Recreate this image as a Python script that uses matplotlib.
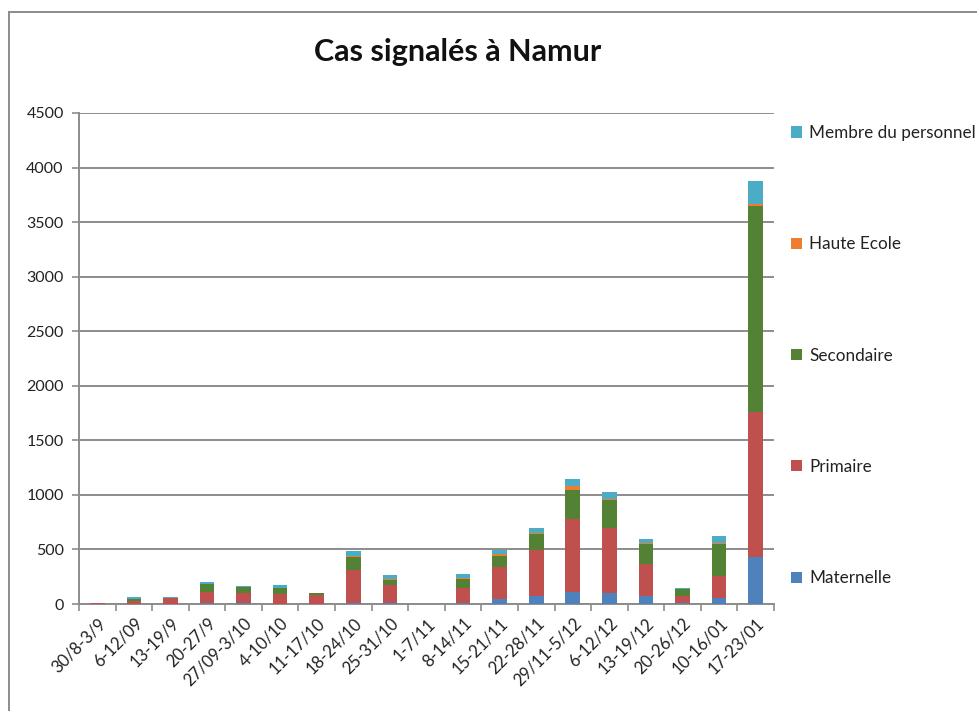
import matplotlib
matplotlib.use("Agg")
import matplotlib.pyplot as plt
from matplotlib.patches import Rectangle
import numpy as np

plt.rcParams['font.family'] = ['Lato', 'DejaVu Sans']

categories = ["30/8-3/9", "6-12/09", "13-19/9", "20-27/9", "27/09-3/10", "4-10/10",
              "11-17/10", "18-24/10", "25-31/10", "1-7/11", "8-14/11", "15-21/11",
              "22-28/11", "29/11-5/12", "6-12/12", "13-19/12", "20-26/12", "10-16/01",
              "17-23/01"]

maternelle = [2, 2, 2, 8, 8, 3, 2, 12, 9, 0, 9, 46, 77, 108, 99, 77, 12, 59, 435]
primaire   = [3, 22, 57, 106, 91, 90, 78, 297, 164, 0, 142, 291, 414, 671, 602, 294, 62, 194, 1325]
secondaire = [2, 25, 0, 68, 59, 58, 19, 124, 46, 0, 78, 102, 146, 265, 249, 182, 62, 297, 1890]
haute_ecole = [0, 0, 0, 3, 0, 0, 0, 10, 8, 0, 8, 15, 18, 37, 12, 9, 2, 12, 15]
personnel  = [6, 12, 9, 13, 9, 19, 6, 40, 37, 0, 40, 37, 46, 65, 68, 37, 6, 62, 210]

series_names = ["Maternelle", "Primaire", "Secondaire", "Haute Ecole", "Membre du personnel"]
series_values = [maternelle, primaire, secondaire, haute_ecole, personnel]
colors = ["#4F81BD", "#C0504D", "#548235", "#ED7D31", "#4BACC6"]

yticks = [0, 500, 1000, 1500, 2000, 2500, 3000, 3500, 4000, 4500]

fig = plt.figure(figsize=(9.78, 7.11), dpi=100)
ax = fig.add_axes([79/978, (711-604)/711, 695/978, 491/711])

x = np.arange(len(categories))
bottom = np.zeros(len(categories))
handles = []
for name, vals, col in zip(series_names, series_values, colors):
    v = np.array(vals, dtype=float)
    b = ax.bar(x, v, 0.4, bottom=bottom, color=col, label=name, zorder=3,
               edgecolor='none')
    handles.append(b)
    bottom += v

ax.set_xlim(-0.5, len(categories) - 0.5)
ax.set_ylim(0, 4500)
ax.set_yticks(yticks)
ax.set_yticklabels([str(t) for t in yticks], fontsize=11.5, color='#222222')
ax.yaxis.grid(True, color='#8c8c8c', linewidth=1.4, zorder=0)
ax.set_axisbelow(True)

ax.set_xticks(x)
ax.set_xticklabels(categories, rotation=45, ha='right', va='top',
                   rotation_mode='anchor', fontsize=12, color='#222222')
ax.set_xticks(np.arange(-0.5, len(categories)), minor=True)
ax.tick_params(axis='x', which='major', length=0, pad=8)
ax.tick_params(axis='x', which='minor', length=5, color='#8c8c8c', width=1.2)
ax.tick_params(axis='y', length=5, color='#8c8c8c', width=1.2, pad=6)

for s in ['top', 'right']:
    ax.spines[s].set_visible(False)
for s in ['left', 'bottom']:
    ax.spines[s].set_color('#8c8c8c')
    ax.spines[s].set_linewidth(1.4)

fig.text(458/978, 1 - 52/711, "Cas signalés à Namur", ha='center', va='center',
         fontsize=22, fontweight='bold', color='#111111')

leg = fig.legend(handles[::-1], series_names[::-1], loc='upper left',
                 bbox_to_anchor=(791/978, 1 - 125/711), frameon=False,
                 fontsize=12.3, handlelength=0.62, handleheight=0.62,
                 handletextpad=0.45, labelspacing=5.58, borderaxespad=0,
                 borderpad=0)
for t in leg.get_texts():
    t.set_color('#222222')

border = Rectangle((9/978, -0.1), 1.2, 1.1 - 12/711, transform=fig.transFigure,
                   fill=False, edgecolor='#8c8c8c', linewidth=1.4)
fig.patches.append(border)

fig.savefig("out.png", dpi=100)
